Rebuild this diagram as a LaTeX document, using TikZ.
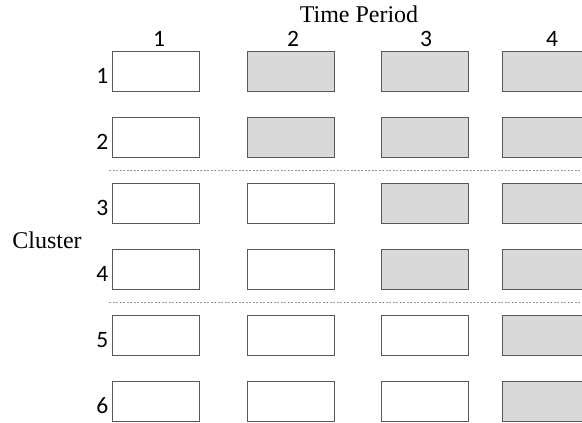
\documentclass[tikz,border=0pt]{standalone}
\usepackage{fontspec}
\setmainfont{Liberation Serif}
\newfontfamily\numfont{Carlito}
\usetikzlibrary{calc}

\tikzset{
  cell/.style={draw=black!65, line width=0.9pt, minimum width=87pt, minimum height=40pt, inner sep=0pt},
  sep/.style={draw=black!40, line width=0.8pt, dash pattern=on 2pt off 1.5pt},
  num/.style={font=\numfont\fontsize{23.5}{24}\selectfont, inner sep=0pt},
  title/.style={font=\fontsize{24}{24}\selectfont, inner sep=0pt}
}

\begin{document}
\begin{tikzpicture}[x=1pt,y=1pt]
  \useasboundingbox (0,0) rectangle (582,-423);
  % boxes, row r = cluster, c = time period
  \foreach \c/\x/\lx in {1/155.5/159,2/290.5/293,3/425/426,4/545.5/552}{
    \node[num, anchor=base] (p\c) at (\lx,-46) {\c};
    \foreach \r in {1,...,6}{
      \pgfmathtruncatemacro{\last}{ceil(\r/2)}
      \ifnum\c>\last \def\shade{black!15}\else \def\shade{white}\fi
      \node[cell, fill=\shade] (b\r\c) at (\x,{-71-66*(\r-1)}) {};
    }
  }
  \foreach \r in {1,...,6}
    \node[num, anchor=base east] (r\r) at ($(b\r1.south west)+(-3,8)$) {\r};

  \node[title, anchor=base] (time) at (359,-23) {Time Period};
  \node[title, anchor=base] (cluster) at (47,-248) {Cluster};

  % group separators
  \coordinate (s1) at (109,-170.5);
  \coordinate (e1) at (582,-170.5);
  \coordinate (s2) at (109,-302.5);
  \coordinate (e2) at (582,-302.5);
  \draw[sep] (s1) -- (e1);
  \draw[sep] (s2) -- (e2);
\end{tikzpicture}
\end{document}
